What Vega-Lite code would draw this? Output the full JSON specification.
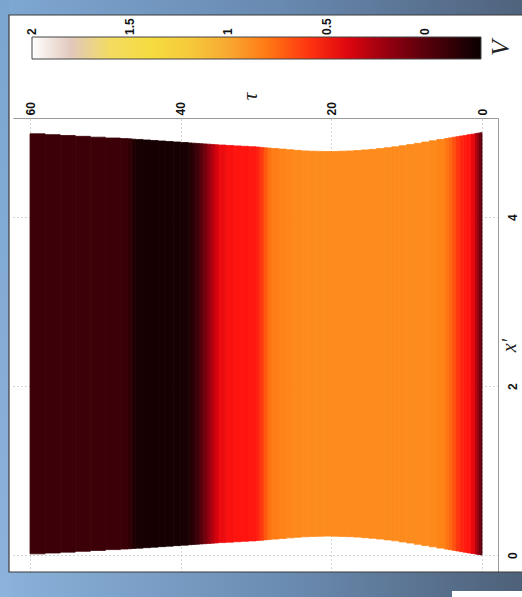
{
  "$schema": "https://vega.github.io/schema/vega-lite/v6.json",
  "width": 485,
  "height": 454,
  "autosize": {"type": "none"},
  "padding": {"left": 13, "top": 118, "right": 24, "bottom": 25},
  "background": "white",
  "config": {"view": {"stroke": null}},
  "datasets": {
    "field": [
      {"t0":0,"t1":0.25,"lo":0.002,"hi":4.998,"V":0.0},
      {"t0":0.25,"t1":0.5,"lo":0.006,"hi":4.994,"V":0.1},
      {"t0":0.5,"t1":0.75,"lo":0.009,"hi":4.991,"V":0.2},
      {"t0":0.75,"t1":1,"lo":0.013,"hi":4.987,"V":0.3},
      {"t0":1,"t1":1.5,"lo":0.019,"hi":4.981,"V":0.42},
      {"t0":1.5,"t1":2,"lo":0.026,"hi":4.974,"V":0.5},
      {"t0":2,"t1":2.5,"lo":0.034,"hi":4.966,"V":0.52},
      {"t0":2.5,"t1":3,"lo":0.041,"hi":4.959,"V":0.55},
      {"t0":3,"t1":3.5,"lo":0.049,"hi":4.951,"V":0.6},
      {"t0":3.5,"t1":4,"lo":0.056,"hi":4.944,"V":0.67},
      {"t0":4,"t1":4.5,"lo":0.064,"hi":4.936,"V":0.74},
      {"t0":4.5,"t1":5,"lo":0.071,"hi":4.929,"V":0.8},
      {"t0":5,"t1":6,"lo":0.083,"hi":4.917,"V":0.85},
      {"t0":6,"t1":7,"lo":0.098,"hi":4.902,"V":0.87},
      {"t0":7,"t1":8,"lo":0.113,"hi":4.887,"V":0.88},
      {"t0":8,"t1":9,"lo":0.128,"hi":4.872,"V":0.88},
      {"t0":9,"t1":10,"lo":0.143,"hi":4.857,"V":0.88},
      {"t0":10,"t1":11,"lo":0.156,"hi":4.844,"V":0.88},
      {"t0":11,"t1":12,"lo":0.169,"hi":4.831,"V":0.88},
      {"t0":12,"t1":13,"lo":0.18,"hi":4.82,"V":0.88},
      {"t0":13,"t1":14,"lo":0.19,"hi":4.81,"V":0.88},
      {"t0":14,"t1":15,"lo":0.199,"hi":4.801,"V":0.88},
      {"t0":15,"t1":16,"lo":0.206,"hi":4.794,"V":0.88},
      {"t0":16,"t1":17,"lo":0.213,"hi":4.787,"V":0.88},
      {"t0":17,"t1":18,"lo":0.218,"hi":4.782,"V":0.88},
      {"t0":18,"t1":19,"lo":0.221,"hi":4.779,"V":0.88},
      {"t0":19,"t1":20,"lo":0.224,"hi":4.776,"V":0.88},
      {"t0":20,"t1":21,"lo":0.225,"hi":4.775,"V":0.88},
      {"t0":21,"t1":22,"lo":0.223,"hi":4.777,"V":0.88},
      {"t0":22,"t1":23,"lo":0.221,"hi":4.779,"V":0.88},
      {"t0":23,"t1":24,"lo":0.217,"hi":4.783,"V":0.88},
      {"t0":24,"t1":25,"lo":0.211,"hi":4.789,"V":0.87},
      {"t0":25,"t1":26,"lo":0.204,"hi":4.796,"V":0.86},
      {"t0":26,"t1":27,"lo":0.196,"hi":4.804,"V":0.85},
      {"t0":27,"t1":28,"lo":0.189,"hi":4.811,"V":0.82},
      {"t0":28,"t1":28.5,"lo":0.184,"hi":4.816,"V":0.77},
      {"t0":28.5,"t1":29,"lo":0.18,"hi":4.82,"V":0.7},
      {"t0":29,"t1":29.5,"lo":0.176,"hi":4.824,"V":0.61},
      {"t0":29.5,"t1":30,"lo":0.172,"hi":4.828,"V":0.54},
      {"t0":30,"t1":31,"lo":0.168,"hi":4.832,"V":0.51},
      {"t0":31,"t1":32,"lo":0.163,"hi":4.837,"V":0.5},
      {"t0":32,"t1":33,"lo":0.158,"hi":4.842,"V":0.5},
      {"t0":33,"t1":34,"lo":0.153,"hi":4.847,"V":0.48},
      {"t0":34,"t1":35,"lo":0.148,"hi":4.852,"V":0.44},
      {"t0":35,"t1":35.5,"lo":0.144,"hi":4.856,"V":0.37},
      {"t0":35.5,"t1":36,"lo":0.141,"hi":4.859,"V":0.29},
      {"t0":36,"t1":36.5,"lo":0.138,"hi":4.862,"V":0.19},
      {"t0":36.5,"t1":37,"lo":0.135,"hi":4.865,"V":0.09},
      {"t0":37,"t1":37.5,"lo":0.132,"hi":4.868,"V":0.0},
      {"t0":37.5,"t1":38,"lo":0.129,"hi":4.871,"V":-0.08},
      {"t0":38,"t1":38.5,"lo":0.126,"hi":4.874,"V":-0.15},
      {"t0":38.5,"t1":39,"lo":0.123,"hi":4.877,"V":-0.2},
      {"t0":39,"t1":40,"lo":0.118,"hi":4.882,"V":-0.23},
      {"t0":40,"t1":41,"lo":0.112,"hi":4.888,"V":-0.24},
      {"t0":41,"t1":42,"lo":0.106,"hi":4.894,"V":-0.24},
      {"t0":42,"t1":43,"lo":0.1,"hi":4.9,"V":-0.24},
      {"t0":43,"t1":44,"lo":0.094,"hi":4.906,"V":-0.24},
      {"t0":44,"t1":45,"lo":0.088,"hi":4.912,"V":-0.24},
      {"t0":45,"t1":46,"lo":0.082,"hi":4.918,"V":-0.23},
      {"t0":46,"t1":46.5,"lo":0.078,"hi":4.922,"V":-0.2},
      {"t0":46.5,"t1":47,"lo":0.075,"hi":4.925,"V":-0.15},
      {"t0":47,"t1":48,"lo":0.072,"hi":4.928,"V":-0.11},
      {"t0":48,"t1":50,"lo":0.065,"hi":4.935,"V":-0.1},
      {"t0":50,"t1":52,"lo":0.055,"hi":4.945,"V":-0.1},
      {"t0":52,"t1":54,"lo":0.045,"hi":4.955,"V":-0.1},
      {"t0":54,"t1":56,"lo":0.035,"hi":4.965,"V":-0.1},
      {"t0":56,"t1":58,"lo":0.025,"hi":4.975,"V":-0.1},
      {"t0":58,"t1":60,"lo":0.015,"hi":4.985,"V":-0.1}
    ]
  },
  "layer": [
    {
      "data": {"name": "field"},
      "mark": {"type": "rect", "strokeWidth": 0},
      "encoding": {
        "x": {
          "field": "t0", "type": "quantitative",
          "scale": {"domain": [-2.12, 62.26], "reverse": true, "nice": false, "zero": false},
          "axis": {
            "orient": "top", "values": [0, 20, 40, 60], "format": "~g",
            "labelAngle": 270, "labelAlign": "left", "labelBaseline": "middle", "labelPadding": 3,
            "labelFlush": false, "labelOverlap": false,
            "labelFont": "Liberation Sans", "labelFontSize": 12, "labelFontWeight": "bold", "labelColor": "#111111",
            "ticks": false,
            "domain": true, "domainColor": "#9a9a9a", "domainWidth": 1,
            "grid": true, "gridColor": "#a8a8a8", "gridDash": [1, 3], "gridWidth": 1, "gridOpacity": 1,
            "title": "τ", "titleFont": "Liberation Serif", "titleFontStyle": "italic", "titleFontWeight": "normal",
            "titleFontSize": 21, "titleColor": "#222222", "titleAngle": 270, "titleAlign": "center", "titleBaseline": "middle",
            "titleX": 237, "titleY": -22
          }
        },
        "x2": {"field": "t1"},
        "y": {
          "field": "lo", "type": "quantitative",
          "scale": {"domain": [-0.2, 5.172], "nice": false, "zero": false},
          "axis": {
            "orient": "right", "values": [0, 2, 4], "format": "~g",
            "labelAngle": 270, "labelAlign": "center", "labelBaseline": "top", "labelPadding": 9,
            "labelFlush": false, "labelOverlap": false,
            "labelFont": "Liberation Sans", "labelFontSize": 12, "labelFontWeight": "bold", "labelColor": "#111111",
            "ticks": false,
            "domain": true, "domainColor": "#9a9a9a", "domainWidth": 1,
            "grid": true, "gridColor": "#a8a8a8", "gridDash": [1, 3], "gridWidth": 1, "gridOpacity": 1,
            "title": "x′", "titleFont": "Liberation Serif", "titleFontStyle": "italic", "titleFontWeight": "normal",
            "titleFontSize": 20, "titleColor": "#222222", "titleAngle": 270, "titleAlign": "center", "titleBaseline": "middle",
            "titleX": 11, "titleY": 227
          }
        },
        "y2": {"field": "hi"},
        "color": {
          "field": "V", "type": "quantitative",
          "scale": {
            "type": "linear", "interpolate": "rgb", "nice": false, "zero": false, "clamp": true,
            "domain": [2, 1.9, 1.76, 1.74, 1.5, 1.28, 1.0, 0.85, 0.75, 0.5, 0.35, 0.18, 0, -0.1, -0.286],
            "range": ["#ffffff", "#efe6e4", "#dcbcac", "#f0d890", "#f5df40", "#f5d840", "#f8a830", "#ff8418", "#ff6c10", "#ff1410", "#d0000e", "#900010", "#5a000c", "#3c0008", "#0a0000"]
          },
          "legend": {
            "type": "gradient",
            "orient": "none", "legendX": 19, "legendY": -81, "direction": "horizontal",
            "gradientLength": 449, "gradientThickness": 22,
            "gradientStrokeColor": "#444444", "gradientStrokeWidth": 1,
            "values": [2, 1.5, 1, 0.5, 0], "format": "~g", "labelOverlap": false,
            "labelFont": "Liberation Sans", "labelFontSize": 12, "labelFontWeight": "bold", "labelColor": "#111111",
            "title": "V", "titleFont": "Liberation Serif", "titleFontStyle": "italic", "titleFontWeight": "normal",
            "titleFontSize": 26, "titleColor": "#222222", "titleOrient": "right", "titleAnchor": "middle", "titlePadding": 19,
            "padding": 0,
            "encode": {
              "labels": {"update": {"angle": {"value": -90}, "align": {"value": "left"}, "baseline": {"value": "middle"}, "y": {"value": -2}}},
              "title": {"update": {"angle": {"value": -90}, "align": {"value": "center"}, "baseline": {"value": "middle"}}}
            }
          }
        }
      }
    },
    {
      "data": {"name": "field"},
      "mark": {"type": "rect", "fillOpacity": 0, "strokeWidth": 0.8},
      "encoding": {
        "x": {"field": "t0", "type": "quantitative"},
        "x2": {"field": "t1"},
        "y": {"field": "lo", "type": "quantitative"},
        "y2": {"field": "hi"},
        "stroke": {
          "field": "V", "type": "quantitative",
          "scale": {
            "type": "linear", "interpolate": "rgb", "nice": false, "zero": false, "clamp": true,
            "domain": [2.0001, 1.9, 1.76, 1.74, 1.5, 1.28, 1.0, 0.85, 0.75, 0.5, 0.35, 0.18, 0, -0.1, -0.2861],
            "range": ["#ffffff", "#efe6e4", "#dcbcac", "#f0d890", "#f5df40", "#f5d840", "#f8a830", "#ff8418", "#ff6c10", "#ff1410", "#d0000e", "#900010", "#5a000c", "#3c0008", "#0a0000"]
          },
          "legend": null
        }
      }
    },
    {
      "data": {"values": [{}]},
      "mark": {"type": "rect", "fill": {"gradient": "linear", "x1": 0, "y1": 0, "x2": 0, "y2": 1, "stops": [{"offset": 0, "color": "#7aa3ce"}, {"offset": 1, "color": "#8db4dc"}]}},
      "encoding": {
        "x": {"datum": 70, "type": "quantitative"},
        "x2": {"datum": 62.79},
        "y": {"datum": 7.2, "type": "quantitative"},
        "y2": {"datum": -1.0}
      }
    },
    {
      "data": {"values": [{}]},
      "mark": {"type": "rect", "fill": {"gradient": "linear", "x1": 0, "y1": 0, "x2": 1, "y2": 0, "stops": [{"offset": 0, "color": "#7ea7d1"}, {"offset": 0.5, "color": "#6889b0"}, {"offset": 1, "color": "#4c5d75"}]}},
      "encoding": {
        "x": {"datum": 62.79, "type": "quantitative"},
        "x2": {"datum": -10},
        "y": {"datum": 7.2, "type": "quantitative"},
        "y2": {"datum": 6.391}
      }
    },
    {
      "data": {"values": [{}]},
      "mark": {"type": "rect", "fill": {"gradient": "linear", "x1": 0, "y1": 0, "x2": 1, "y2": 0, "stops": [{"offset": 0, "color": "#8ab1da"}, {"offset": 0.5, "color": "#6b8cb2"}, {"offset": 1, "color": "#495a70"}]}},
      "encoding": {
        "x": {"datum": 62.79, "type": "quantitative"},
        "x2": {"datum": -10},
        "y": {"datum": -0.2, "type": "quantitative"},
        "y2": {"datum": -1.0}
      }
    },
    {
      "data": {"values": [{}]},
      "mark": {"type": "rect", "fill": "#ffffff"},
      "encoding": {
        "x": {"datum": 3.99, "type": "quantitative"},
        "x2": {"datum": -10},
        "y": {"datum": -0.425, "type": "quantitative"},
        "y2": {"datum": -1.0}
      }
    },
    {
      "data": {"values": [{}]},
      "mark": {"type": "rect", "fillOpacity": 0, "stroke": "#3a3a3a", "strokeWidth": 1.2},
      "encoding": {
        "x": {"datum": 62.79, "type": "quantitative"},
        "x2": {"datum": -10},
        "y": {"datum": 6.391, "type": "quantitative"},
        "y2": {"datum": -0.2}
      }
    }
  ]
}
